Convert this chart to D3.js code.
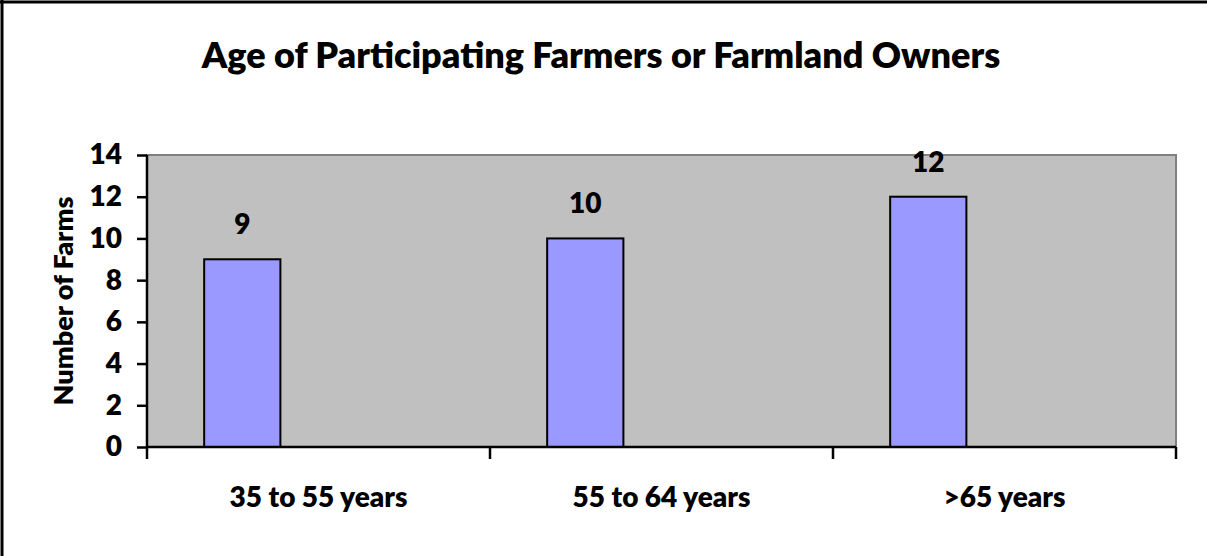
<html>
<head>
    <meta charset="UTF-8">
    <title>Age of Participating Farmers or Farmland Owners</title>
    <script src="https://d3js.org/d3.v7.min.js"></script>
    <style>
        html, body { margin: 0; background: #fff; overflow: hidden; }
        svg { display: block; }
        text { font-family: Lato, "Open Sans", sans-serif; font-weight: 800; fill: #000; }
        .axis path, .axis line { stroke: #000; stroke-width: 2.5px; }
        .axis text { font-size: 28px; }
    </style>
</head>
<body>
    <svg width="1207" height="556"></svg>
    <script>
        // data
        var categories = ['35 to 55 years', '55 to 64 years', '>65 years'];
        var farms = [9, 10, 12];
        var yTicks = [0, 2, 4, 6, 8, 10, 12, 14];
        // excel lays the bars out as if three series share each category, only the first has values
        var slots = ['a', 'b', 'c'];

        var svg = d3.select('svg'),
            margin = { top: 155, right: 31, bottom: 109, left: 147 },
            width = +svg.attr('width') - margin.left - margin.right,
            height = +svg.attr('height') - margin.top - margin.bottom;

        // outer frame, only top and left edges show in the picture
        svg.append('line')
            .attr('x1', 2).attr('y1', 0).attr('x2', 2).attr('y2', 556)
            .attr('stroke', '#000').attr('stroke-width', 3);
        svg.append('line')
            .attr('x1', 0).attr('y1', 2).attr('x2', 1207).attr('y2', 2)
            .attr('stroke', '#000').attr('stroke-width', 3);

        svg.append('text')
            .attr('x', 601).attr('y', 68)
            .attr('text-anchor', 'middle')
            .style('font-size', '36px')
            .text('Age of Participating Farmers or Farmland Owners');

        var g = svg.append('g').attr('transform', 'translate(' + margin.left + ',' + margin.top + ')');

        var x0 = d3.scaleBand().domain(categories).range([0, width]);
        var x1 = d3.scaleBand().domain(slots).range([0, x0.bandwidth()]).paddingOuter(0.75);
        var y = d3.scaleLinear().domain([0, 14]).range([height, 0]);

        // plot area
        g.append('rect')
            .attr('width', width).attr('height', height)
            .attr('fill', '#c0c0c0').attr('stroke', '#808080').attr('stroke-width', 2);

        g.selectAll('.bar')
            .data(farms)
            .enter().append('rect')
            .attr('class', 'bar')
            .attr('x', (d, i) => x0(categories[i]) + x1('a'))
            .attr('y', d => y(d))
            .attr('width', x1.bandwidth())
            .attr('height', d => height - y(d))
            .attr('fill', '#9999ff').attr('stroke', '#000').attr('stroke-width', 2);

        g.selectAll('.val')
            .data(farms)
            .enter().append('text')
            .attr('class', 'val')
            .attr('x', (d, i) => x0(categories[i]) + x1('a') + x1.bandwidth() / 2)
            .attr('y', d => y(d) - 25)
            .attr('text-anchor', 'middle')
            .style('font-size', '28px')
            .text(d => d);

        var yAxis = g.append('g').attr('class', 'axis')
            .call(d3.axisLeft(y).tickValues(yTicks).tickSize(10).tickPadding(15));
        yAxis.select('.domain').attr('d', 'M0,' + height + 'V0');

        var xAxis = g.append('g').attr('class', 'axis')
            .attr('transform', 'translate(0,' + height + ')')
            .call(d3.axisBottom(x0).tickSize(0).tickPadding(40));
        xAxis.select('.domain').attr('d', 'M0,0H' + width);
        xAxis.selectAll('.tick line').remove();
        // tick marks sit on the category boundaries
        xAxis.selectAll('.bound')
            .data(d3.range(categories.length + 1))
            .enter().append('line')
            .attr('class', 'bound')
            .attr('x1', i => i * x0.step()).attr('x2', i => i * x0.step())
            .attr('y1', 0).attr('y2', 12)
            .attr('stroke', '#000').attr('stroke-width', 2.5);

        svg.append('text')
            .attr('transform', 'translate(73,' + (margin.top + height / 2) + ') rotate(-90)')
            .attr('text-anchor', 'middle')
            .style('font-size', '27px')
            .text('Number of Farms');
    </script>
</body>
</html>
